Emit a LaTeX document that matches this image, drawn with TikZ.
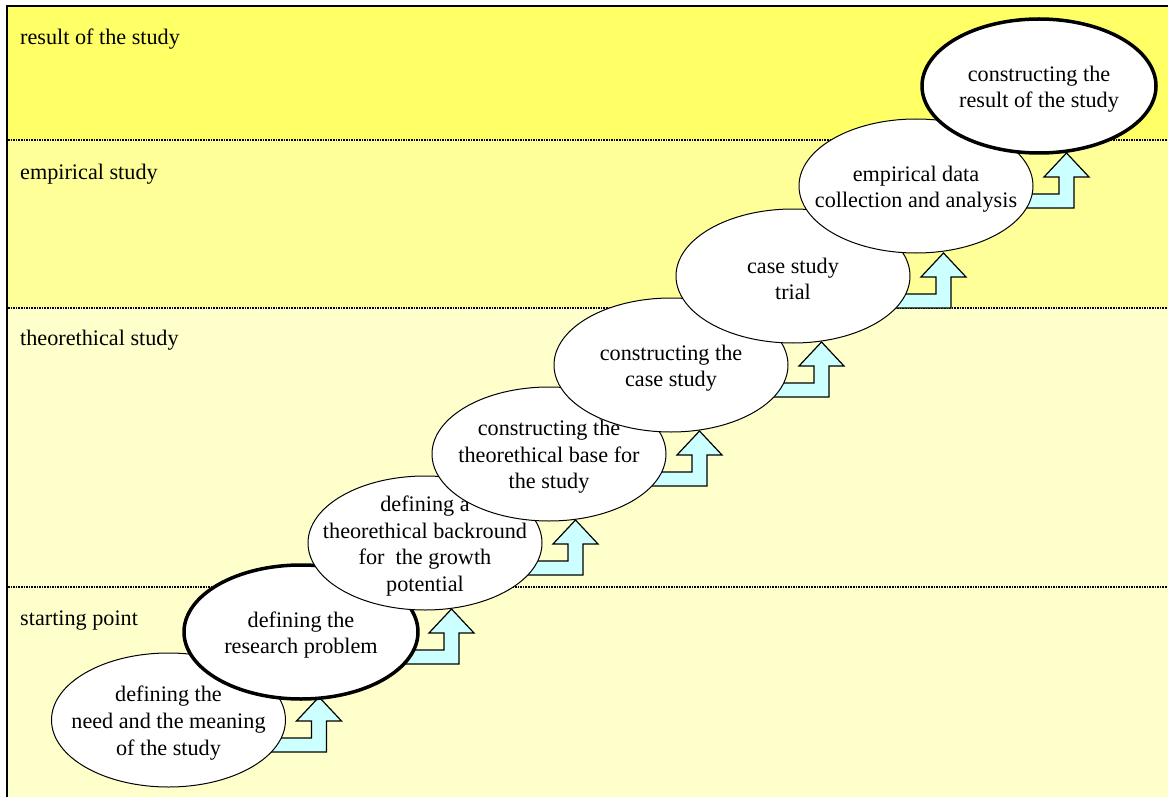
\documentclass[tikz,border=0pt]{standalone}
\usepackage{fontspec}
\setmainfont{Liberation Serif}
\usetikzlibrary{shapes.geometric,calc}
\definecolor{bandtop}{RGB}{255,255,102}
\definecolor{bandemp}{RGB}{255,255,153}
\definecolor{bandlow}{RGB}{255,255,204}
\definecolor{arrowfill}{RGB}{204,255,255}
\tikzset{
  stepell/.style={ellipse, draw=black, line width=1pt, fill=white,
    minimum width=234pt, minimum height=134pt, inner sep=0pt},
  keyell/.style={stepell, line width=3.5pt},
  steptext/.style={align=center, inner sep=0pt, yshift=-3pt, font=\fontsize{22.2}{26.6}\selectfont},
  bandlabel/.style={anchor=base west, inner sep=0pt, font=\fontsize{22.2}{26.6}\selectfont},
  sepline/.style={line width=1.6pt, dash pattern=on 1.6pt off 1pt},
  blockarrow/.style={draw=black, line width=1.2pt, fill=arrowfill, line join=miter},
  pics/bentup/.style={code={
    \draw[blockarrow] (88,18) -- (143,18) -- (143,1) -- (128,1) -- (150.5,-23)
      -- (173,1) -- (158,1) -- (158,32) -- (88,32) -- cycle;
  }}
}
\begin{document}
\begin{tikzpicture}[x=1pt,y=-1pt]
\useasboundingbox (0,0) rectangle (1168,797);
% bands
\fill[bandtop] (7,6) rectangle (1168,140);
\fill[bandemp] (7,140) rectangle (1168,308);
\fill[bandlow] (7,308) rectangle (1168,797);
\draw[sepline] (8,140) -- (1168,140);
\draw[sepline] (8,308) -- (1168,308);
\draw[sepline] (8,587) -- (1168,587);
\draw[line width=2.5pt] (7,797) -- (7,6) -- (1168,6);
% band labels
\node[bandlabel] (l1) at (20,45) {result of the study};
\node[bandlabel] (l2) at (20,179) {empirical study};
\node[bandlabel] (l3) at (20,345) {theorethical study};
\node[bandlabel] (l4) at (20,625) {starting point};
% anchor coordinates for the steps
\coordinate (c1) at (168.5,720);
\coordinate (c2) at (301,632);
\coordinate (c3) at (425,543);
\coordinate (c4) at (549,454);
\coordinate (c5) at (671,365);
\coordinate (c6) at (793,276);
\coordinate (c7) at (916,186);
\coordinate (c8) at (1039,86);
% arrows (behind the ellipses)
\pic at (c1) {bentup};
\pic at (c2) {bentup};
\pic at (c3) {bentup};
\pic at (c4) {bentup};
\pic at (c5) {bentup};
\pic at (c6) {bentup};
\pic at ($(c7)+(0,-10)$) {bentup};
% ellipses with their texts
\node[stepell] (e1) at (c1) {};
\node[steptext] (t1) at (e1) {defining the\\need and the meaning\\of the study};
\node[keyell]  (e2) at (c2) {};
\node[steptext] (t2) at (e2) {defining the\\research problem};
\node[stepell] (e3) at (c3) {};
\node[steptext] (t3) at (e3) {defining a\\theorethical backround\\for~ the growth\\potential};
\node[stepell] (e4) at (c4) {};
\node[steptext] (t4) at (e4) {constructing the\\theorethical base for\\the study};
\node[stepell] (e5) at (c5) {};
\node[steptext] (t5) at (e5) {constructing the\\case study};
\node[stepell] (e6) at (c6) {};
\node[steptext] (t6) at (e6) {case study\\trial};
\node[stepell] (e7) at (c7) {};
\node[steptext] (t7) at (e7) {empirical data\\collection and analysis};
\node[keyell]  (e8) at (c8) {};
\node[steptext] (t8) at (e8) {constructing the\\result of the study};
\end{tikzpicture}
\end{document}
